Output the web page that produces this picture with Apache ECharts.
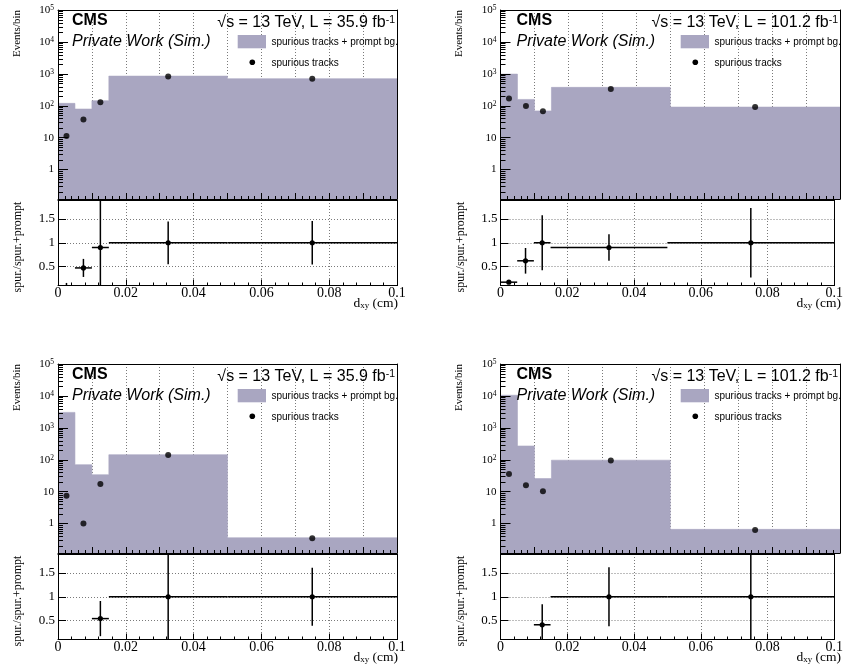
<!DOCTYPE html>
<html>
<head>
<meta charset="utf-8">
<script src="https://cdn.jsdelivr.net/npm/echarts@6.0.0/dist/echarts.min.js"></script>
<style>html,body{margin:0;padding:0;background:#fff}#c{width:846px;height:672px}</style>
</head>
<body>
<div id="c"></div>
<script>
// ---------------- data ----------------
const binEdges = [0, 0.005, 0.01, 0.015, 0.05, 0.1];
const binCenters = [0.0025, 0.0075, 0.0125, 0.0325, 0.075];
const binHalfWidths = [0.0025, 0.0025, 0.0025, 0.0175, 0.025];
const lumiLabels = ['35.9', '101.2', '35.9', '101.2'];
const logMinorMultipliers = [2, 3, 4, 5, 6, 7, 8, 9];
const logDecades = [-1, 0, 1, 2, 3, 4];

// spurious tracks + prompt bg. (histogram) and spurious tracks (points)
const totalA = [119, 79, 144, 850, 704];
const spurA  = [11.2, 37, 129, 830, 700];
const ratioA = [0.094, 0.47, 0.90, 1.0, 1.0];
const ratioErrA = [0.06, 0.19, 1.0, 0.45, 0.46];

const totalB = [980, 158, 69, 377, 91];
const spurB  = [170, 98, 67, 333, 91];
const ratioB = [0.17, 0.62, 1.0, 0.90, 1.0];
const ratioErrB = [0.02, 0.27, 0.58, 0.28, 0.73];

const totalC = [3050, 70, 34, 144, 0.36];
const spurC  = [7.4, 1.0, 17.5, 140, 0.35];
const ratioC = [null, null, 0.54, 1.0, 1.0];
const ratioErrC = [null, null, 0.37, 1.0, 0.61];

const totalD = [10500, 270, 25.7, 97, 0.66];
const spurD  = [36, 16, 10.3, 95, 0.63];
const ratioD = [null, null, 0.41, 1.0, 1.0];
const ratioErrD = [null, null, 0.43, 0.62, 1.0];

const histTitle = 'spurious tracks + prompt bg.';
const pointTitle = 'spurious tracks';

// ---------------- layout / style ----------------
const FILL = '#a9a6c1';
const SERIF = '"Liberation Serif", "Times New Roman", serif';
const SANS = '"Liberation Sans", Arial, Helvetica, sans-serif';
const TOP_MIN = 0.12, TOP_MAX = 1e5, R_MIN = 0.1, R_MAX = 1.9;

const frames = [
  {left: 58, right: 397, top: 10},
  {left: 500.5, right: 840, top: 10},
  {left: 58, right: 397, top: 364},
  {left: 500.5, right: 840, top: 364}
];
const panelData = [
  {total: totalA, spur: spurA, ratio: ratioA, err: ratioErrA},
  {total: totalB, spur: spurB, ratio: ratioB, err: ratioErrB},
  {total: totalC, spur: spurC, ratio: ratioC, err: ratioErrC},
  {total: totalD, spur: spurD, ratio: ratioD, err: ratioErrD}
];

const minorTickValues = [];
logDecades.forEach(n => logMinorMultipliers.forEach(k => {
  const v = k * Math.pow(10, n);
  if (v > TOP_MIN && v < TOP_MAX) minorTickValues.push([0, v]);
}));

const grids = [], xAxes = [], yAxes = [], series = [], graphics = [];
const BLACK = {color: '#000', width: 1};
const DOT = {type: [1, 2], color: '#7a7a7a', width: 1};

function logFmt(v) {
  if (v < 0.5) return '';
  const e = Math.round(Math.log10(v));
  if (e === 0) return '{b|1}';
  if (e === 1) return '{b|10}';
  return '{b|10}{s|' + e + '}';
}

function ratioRender(params, api) {
  const x = api.value(0), y = api.value(1), ex = api.value(2), ey = api.value(3);
  const clamp = v => Math.max(R_MIN, Math.min(R_MAX, v));
  const children = [];
  const pT = api.coord([x, clamp(y + ey)]);
  const pB = api.coord([x, clamp(y - ey)]);
  if (pB[1] - pT[1] > 0.5) {
    children.push({type: 'line', shape: {x1: pT[0], y1: pT[1], x2: pB[0], y2: pB[1]},
      style: {stroke: '#000', lineWidth: 1.5}});
  }
  if (y >= R_MIN && y <= R_MAX) {
    const pL = api.coord([x - ex, y]), pR = api.coord([x + ex, y]), pc = api.coord([x, y]);
    children.push({type: 'line', shape: {x1: pL[0], y1: pL[1], x2: pR[0], y2: pR[1]},
      style: {stroke: '#000', lineWidth: 1.5}});
    children.push({type: 'circle', shape: {cx: pc[0], cy: pc[1], r: 2.6}, style: {fill: '#000'}});
  }
  return {type: 'group', children};
}

function minorTickRender(params, api) {
  const p = api.coord([api.value(0), api.value(1)]);
  const y = Math.round(p[1]) + 0.5;
  return {type: 'line', shape: {x1: p[0], y1: y, x2: p[0] + 5, y2: y},
    style: {stroke: '#000', lineWidth: 1}};
}

frames.forEach((f, i) => {
  const d = panelData[i];
  const w = f.right - f.left;
  // ---- top pad ----
  const g = grids.length;
  grids.push({left: f.left, top: f.top, width: w, height: 189});
  xAxes.push({type: 'value', gridIndex: g, min: 0, max: 0.1, interval: 0.01, position: 'bottom', z: 0,
    axisLine: {show: false}, axisTick: {show: false}, axisLabel: {show: false},
    splitLine: {show: true, lineStyle: DOT}});
  const xTop = xAxes.length;
  xAxes.push({type: 'value', gridIndex: g, min: 0, max: 0.1, interval: 0.01, position: 'bottom', z: 5,
    axisLine: {show: true, onZero: false, lineStyle: BLACK},
    axisTick: {show: true, inside: true, length: 6, lineStyle: BLACK},
    minorTick: {show: true, splitNumber: 5, length: 3, lineStyle: BLACK},
    axisLabel: {show: false}, splitLine: {show: false}});
  xAxes.push({type: 'value', gridIndex: g, min: 0, max: 0.1, position: 'top', z: 5,
    axisLine: {show: true, onZero: false, lineStyle: BLACK}, axisTick: {show: false},
    axisLabel: {show: false}, splitLine: {show: false}});
  const yTop = yAxes.length;
  yAxes.push({type: 'log', logBase: 10, gridIndex: g, min: TOP_MIN, max: TOP_MAX, position: 'left', z: 5,
    axisLine: {show: true, onZero: false, lineStyle: BLACK},
    axisTick: {show: true, inside: true, length: 10, lineStyle: BLACK},
    minorTick: {show: false},
    axisLabel: {margin: 4, color: '#000', formatter: logFmt, showMinLabel: false,
      rich: {b: {fontFamily: SERIF, fontSize: 11, color: '#000'},
             s: {fontFamily: SERIF, fontSize: 7.5, color: '#000', verticalAlign: 'top'}}},
    splitLine: {show: false}});
  yAxes.push({type: 'log', logBase: 10, gridIndex: g, min: TOP_MIN, max: TOP_MAX, position: 'right', z: 5,
    axisLine: {show: true, onZero: false, lineStyle: BLACK}, axisTick: {show: false},
    axisLabel: {show: false}, splitLine: {show: false}});

  const stepData = binEdges.map((e, k) => [e, d.total[Math.min(k, d.total.length - 1)]]);
  series.push({type: 'line', name: histTitle, xAxisIndex: xTop, yAxisIndex: yTop, step: 'end',
    data: stepData, showSymbol: false, symbol: 'none', z: 1,
    lineStyle: {width: 0.6, color: FILL}, areaStyle: {color: FILL, opacity: 1, origin: 'start'}});
  series.push({type: 'scatter', name: pointTitle, xAxisIndex: xTop, yAxisIndex: yTop, z: 3,
    symbolSize: 6, itemStyle: {color: '#000'},
    data: binCenters.map((c, k) => [c, d.spur[k]])});
  series.push({type: 'custom', xAxisIndex: xTop, yAxisIndex: yTop, z: 4, silent: true,
    renderItem: minorTickRender, encode: {x: 0, y: 1}, data: minorTickValues});

  // ---- ratio pad ----
  const rTop = f.top + 190;
  const gr = grids.length;
  grids.push({left: f.left, top: rTop, width: w, height: 85.5});
  xAxes.push({type: 'value', gridIndex: gr, min: 0, max: 0.1, interval: 0.02, position: 'bottom', z: 0,
    axisLine: {show: false}, axisTick: {show: false}, axisLabel: {show: false},
    splitLine: {show: true, lineStyle: DOT}});
  const xR = xAxes.length;
  xAxes.push({type: 'value', gridIndex: gr, min: 0, max: 0.1, interval: 0.02, position: 'bottom', z: 5,
    axisLine: {show: true, onZero: false, lineStyle: BLACK},
    axisTick: {show: true, inside: true, length: 6, lineStyle: BLACK},
    minorTick: {show: true, splitNumber: 5, length: 3, lineStyle: BLACK},
    axisLabel: {margin: 1, color: '#000', fontFamily: SERIF, fontSize: 14},
    splitLine: {show: false}});
  xAxes.push({type: 'value', gridIndex: gr, min: 0, max: 0.1, position: 'top', z: 5,
    axisLine: {show: true, onZero: false, lineStyle: BLACK}, axisTick: {show: false},
    axisLabel: {show: false}, splitLine: {show: false}});
  yAxes.push({type: 'value', gridIndex: gr, min: R_MIN, max: R_MAX, splitNumber: 4, position: 'left', z: 0,
    axisLine: {show: false}, axisTick: {show: false}, axisLabel: {show: false},
    splitLine: {show: true, lineStyle: DOT}});
  const yR = yAxes.length;
  yAxes.push({type: 'value', gridIndex: gr, min: R_MIN, max: R_MAX, splitNumber: 4, position: 'left', z: 5,
    axisLine: {show: true, onZero: false, lineStyle: BLACK},
    axisTick: {show: true, inside: true, length: 8, lineStyle: BLACK},
    axisLabel: {margin: 3, color: '#000', fontFamily: SERIF, fontSize: 13, showMinLabel: false, showMaxLabel: false},
    splitLine: {show: false}});
  yAxes.push({type: 'value', gridIndex: gr, min: R_MIN, max: R_MAX, position: 'right', z: 5,
    axisLine: {show: true, onZero: false, lineStyle: BLACK}, axisTick: {show: false},
    axisLabel: {show: false}, splitLine: {show: false}});

  const rData = [];
  binCenters.forEach((c, k) => {
    if (d.ratio[k] !== null) rData.push([c, d.ratio[k], binHalfWidths[k], d.err[k]]);
  });
  series.push({type: 'custom', xAxisIndex: xR, yAxisIndex: yR, z: 3, renderItem: ratioRender,
    encode: {x: 0, y: 1}, data: rData});

  // ---- texts ----
  const offX = i % 2 === 0 ? 14 : 16;
  graphics.push({type: 'text', x: f.left + offX, y: f.top + 11, z: 10,
    style: {text: 'CMS', font: 'bold 16px "Liberation Sans", Arial, sans-serif', fill: '#000', verticalAlign: 'middle'}});
  graphics.push({type: 'text', x: f.left + offX, y: f.top + 32, z: 10,
    style: {text: 'Private Work (Sim.)', font: 'italic 16px "Liberation Sans", Arial, sans-serif', fill: '#000', verticalAlign: 'middle'}});
  graphics.push({type: 'text', x: f.right - 2, y: f.top + 13, z: 10,
    style: {text: '{m|√s = 13 TeV, L = ' + lumiLabels[i] + ' fb}{p|-1}', align: 'right', verticalAlign: 'middle',
      rich: {m: {fontFamily: SANS, fontSize: 16, fill: '#000'},
             p: {fontFamily: SANS, fontSize: 10.5, fill: '#000', verticalAlign: 'top'}}}});
  // legend
  graphics.push({type: 'rect', z: 10, shape: {x: f.right - 159.3, y: f.top + 25, width: 28.3, height: 13.3},
    style: {fill: FILL}});
  graphics.push({type: 'text', x: f.right - 125.5, y: f.top + 32, z: 10,
    style: {text: histTitle, font: '10px "Liberation Sans", Arial, sans-serif', fill: '#000', verticalAlign: 'middle'}});
  graphics.push({type: 'circle', z: 10, shape: {cx: f.right - 144.7, cy: f.top + 52.3, r: 2.8}, style: {fill: '#000'}});
  graphics.push({type: 'text', x: f.right - 125.5, y: f.top + 53, z: 10,
    style: {text: pointTitle, font: '10px "Liberation Sans", Arial, sans-serif', fill: '#000', verticalAlign: 'middle'}});
  // axis titles
  graphics.push({type: 'text', x: f.left - 41, y: f.top, rotation: Math.PI / 2, z: 10,
    style: {text: 'Events/bin', font: '11px "Liberation Serif", "Times New Roman", serif', fill: '#000', align: 'right', verticalAlign: 'middle'}});
  graphics.push({type: 'text', x: f.left - 40, y: rTop + 47, rotation: Math.PI / 2, z: 10,
    style: {text: 'spur./spur.+prompt', font: '12px "Liberation Serif", "Times New Roman", serif', fill: '#000', align: 'center', verticalAlign: 'middle'}});
  graphics.push({type: 'text', x: f.right + 1, y: rTop + 103, z: 10,
    style: {text: '{n|d}{sub|xy}{n| (cm)}', align: 'right', verticalAlign: 'middle',
      rich: {n: {fontFamily: SERIF, fontSize: 13.5, fill: '#000'},
             sub: {fontFamily: SERIF, fontSize: 9, fill: '#000', verticalAlign: 'bottom'}}}});
});

const chart = echarts.init(document.getElementById('c'), null, {renderer: 'canvas'});
chart.setOption({
  animation: false,
  backgroundColor: '#fff',
  grid: grids,
  xAxis: xAxes,
  yAxis: yAxes,
  series: series,
  graphic: graphics
});
</script>
</body>
</html>
